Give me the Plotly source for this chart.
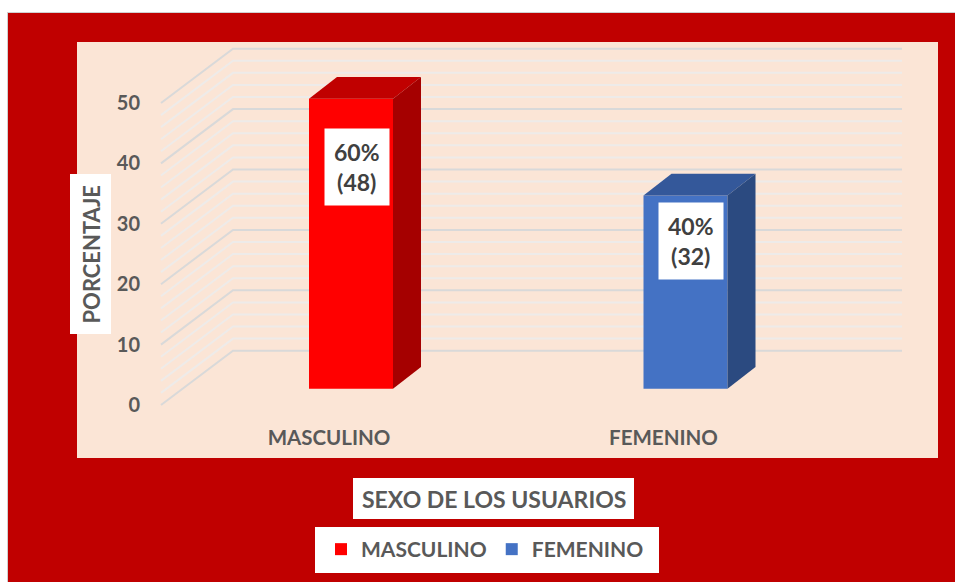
import plotly.graph_objects as go
import numpy as np

# ---------------- data ----------------
categories = ["MASCULINO", "FEMENINO"]
counts = [48, 32]
percents = [60, 40]
y_tick_values = [0, 10, 20, 30, 40, 50]
minor_grid_step = 2

# ---------------- style ----------------
front_colors = ["#FF0000", "#4472C4"]
top_colors = ["#C00000", "#34589A"]
side_colors = ["#A50000", "#2B4A80"]
FRAME_RED = "#C00000"
PANEL = "#FBE5D6"
TEXT = "#595959"
LABEL_TEXT = "#404040"
FONT = "Lato"

W, H = 955, 582
# measurements below are in page pixels
PL, PR, PT, PB = 146, 938, 42, 418          # plot area
PX_X = 334.5                                # pixels per category unit
PX_Y = 6.04                                 # pixels per value unit
X0_PX = 351                                 # pixel of first category (bar front plane)
Y0_PX = 388.7                               # pixel of value 0 (bar front plane)

xr = [(PL - X0_PX) / PX_X, (PR - X0_PX) / PX_X]
yr = [(Y0_PX - PB) / PX_Y, (Y0_PX - PT) / PX_Y]


def dx(px):
    return px / PX_X


def dy(px):
    return px / PX_Y


def px_x(px):
    return (px - PL) / (PR - PL)


def px_y(py):
    return (PB - py) / (PB - PT)


BAR_W = dx(84)
DEPTH_X, DEPTH_Y = dx(28), dy(21.7)
WALL_FRONT_X = dx(161 - X0_PX)
WALL_BACK_X = dx(233 - X0_PX)
WALL_RIGHT_X = dx(902 - X0_PX)
FRONT_OFF = dy(-16.3)
BACK_OFF = dy(38)
LABEL_SHIFT = dx(-22)

fig = go.Figure()

# front faces (real bars)
for i, (cat, v) in enumerate(zip(categories, counts)):
    fig.add_trace(go.Bar(
        x=[i], y=[v], width=BAR_W, name=cat,
        marker=dict(color=front_colors[i], line=dict(width=0)),
        hoverinfo="skip",
    ))

# top and side faces
for i, v in enumerate(counts):
    xl, xrt = i - BAR_W / 2, i + BAR_W / 2
    fig.add_trace(go.Scatter(
        x=[xl, xrt, xrt + DEPTH_X, xl + DEPTH_X, xl],
        y=[v, v, v + DEPTH_Y, v + DEPTH_Y, v],
        fill="toself", fillcolor=top_colors[i], mode="lines",
        line=dict(width=0, color=top_colors[i]), showlegend=False, hoverinfo="skip",
    ))
    fig.add_trace(go.Scatter(
        x=[xrt, xrt, xrt + DEPTH_X, xrt + DEPTH_X, xrt],
        y=[0, v, v + DEPTH_Y, DEPTH_Y, 0],
        fill="toself", fillcolor=side_colors[i], mode="lines",
        line=dict(width=0, color=side_colors[i]), showlegend=False, hoverinfo="skip",
    ))

shapes = []
# background frame and panel
shapes.append(dict(type="rect", xref="paper", yref="paper", layer="below",
                   x0=px_x(7.5), x1=px_x(990), y0=px_y(12.5), y1=px_y(620),
                   fillcolor=FRAME_RED, line=dict(color="#D0D0D0", width=1)))
shapes.append(dict(type="rect", xref="paper", yref="paper", layer="below",
                   x0=px_x(77), x1=px_x(938), y0=px_y(42), y1=px_y(458),
                   fillcolor=PANEL, line=dict(width=0)))

# 3D gridlines (left wall + back wall)
for g in np.arange(0, max(y_tick_values) + 1, minor_grid_step):
    major = (g % 10 == 0)
    path = (f"M {WALL_FRONT_X},{g + FRONT_OFF} L {WALL_BACK_X},{g + BACK_OFF} "
            f"L {WALL_RIGHT_X},{g + BACK_OFF}")
    shapes.append(dict(type="path", xref="x", yref="y", layer="below", path=path,
                       line=dict(color="#D9D9D9" if major else "#EEEBE9", width=2)))

# title boxes and legend box
shapes.append(dict(type="rect", xref="paper", yref="paper", layer="below",
                   x0=px_x(353), x1=px_x(634), y0=px_y(478), y1=px_y(519),
                   fillcolor="white", line=dict(width=0)))
shapes.append(dict(type="rect", xref="paper", yref="paper", layer="below",
                   x0=px_x(70), x1=px_x(111), y0=px_y(174), y1=px_y(334),
                   fillcolor="white", line=dict(width=0)))
shapes.append(dict(type="rect", xref="paper", yref="paper", layer="below",
                   x0=px_x(315), x1=px_x(659), y0=px_y(527), y1=px_y(573),
                   fillcolor="white", line=dict(width=0)))

annotations = []
for i, (v, p) in enumerate(zip(counts, percents)):
    annotations.append(dict(
        x=i + dx(5.5), y=v * 0.765, xref="x", yref="y",
        text=f"{p}%<br>({v})", showarrow=False, bgcolor="white", borderpad=9,
        font=dict(family=FONT, size=23, color=LABEL_TEXT, weight="bold"),
        xanchor="center", yanchor="middle",
    ))
annotations.append(dict(
    x=px_x(493.5), y=px_y(498.5), xref="paper", yref="paper",
    text="SEXO DE LOS USUARIOS", showarrow=False,
    font=dict(family=FONT, size=23, color=TEXT, weight="bold"),
    xanchor="center", yanchor="middle",
))
annotations.append(dict(
    x=px_x(90.5), y=px_y(254), xref="paper", yref="paper",
    text="PORCENTAJE", showarrow=False, textangle=-90,
    font=dict(family=FONT, size=22, color=TEXT, weight="bold"),
    xanchor="center", yanchor="middle",
))

fig.update_layout(
    width=W, height=H,
    margin=dict(l=PL, r=W - PR, t=PT, b=H - PB, autoexpand=False),
    paper_bgcolor="white",
    plot_bgcolor="rgba(0,0,0,0)",
    barmode="overlay",
    shapes=shapes,
    annotations=annotations,
    showlegend=True,
    legend=dict(
        orientation="h", x=px_x(485), xanchor="center", y=px_y(529), yanchor="top",
        bgcolor="rgba(0,0,0,0)", borderwidth=0,
        font=dict(family=FONT, size=21, color=TEXT, weight="bold"),
    ),
    xaxis=dict(
        range=xr, showgrid=False, zeroline=False, showline=False, fixedrange=True,
        tickvals=[i + LABEL_SHIFT for i in range(len(categories))], ticktext=categories,
        tickfont=dict(family=FONT, size=20.5, color=TEXT, weight="bold"),
        ticklabelstandoff=5,
    ),
    yaxis=dict(
        range=yr, showgrid=False, zeroline=False, showline=False, fixedrange=True,
        tickvals=[v + FRONT_OFF for v in y_tick_values],
        ticktext=[str(v) for v in y_tick_values],
        tickfont=dict(family=FONT, size=20, color=TEXT, weight="bold"),
        ticklabelstandoff=5,
    ),
)

fig.write_html(
    "out.html",
    config={"displayModeBar": False},
    post_script="document.body.style.margin='0';document.body.style.overflow='hidden';",
)
